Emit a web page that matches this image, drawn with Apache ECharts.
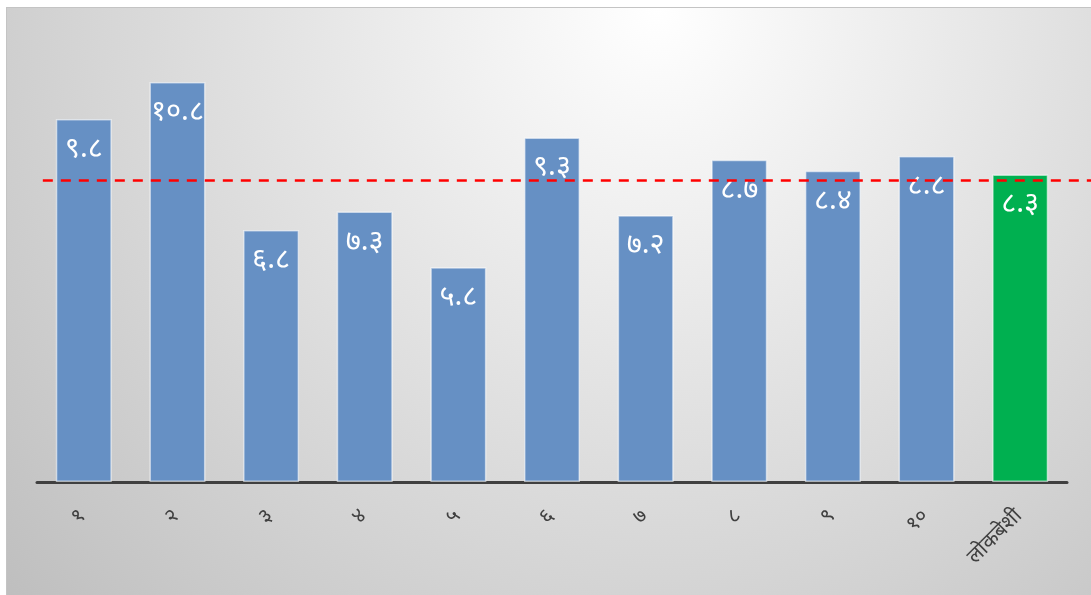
<!DOCTYPE html>
<html>
<head>
<meta charset="utf-8">
<script src="https://cdn.jsdelivr.net/npm/echarts@6/dist/echarts.min.js"></script>
<style>
  html, body { margin: 0; padding: 0; background: #ffffff; width: 1091px; height: 595px; overflow: hidden; }
  #chart { position: absolute; left: 6px; top: 7px; width: 1085px; height: 588px; border-top: 1px solid #c4c4c4; border-left: 1px solid #c4c4c4; box-sizing: border-box; }
</style>
</head>
<body>
<div id="chart"></div>
<script>
// Categories (ward numbers in Devanagari + total)
const categories = ['१', '२', '३', '४', '५', '६', '७', '८', '९', '१०', 'लोकबेशी'];
// Bar values
const values = [9.8, 10.8, 6.8, 7.3, 5.8, 9.3, 7.2, 8.7, 8.4, 8.8, 8.3];
// Value labels as printed on the bars (Devanagari numerals)
const valueLabels = ['९.८', '१०.८', '६.८', '७.३', '५.८', '९.३', '७.२', '८.७', '८.४', '८.८', '८.३'];
// Reference (red dashed) line value
const referenceValue = 8.15;

const blue = '#6690c4';
const green = '#00b050';
const font = '"Noto Sans Devanagari", "Noto Sans", "DejaVu Sans", sans-serif';

const chart = echarts.init(document.getElementById('chart'), null, { renderer: 'canvas' });

const option = {
  animation: false,
  backgroundColor: {
    type: 'radial', x: 0.6, y: 0.0, r: 1.55,
    colorStops: [
      { offset: 0, color: '#ffffff' },
      { offset: 1, color: '#bcbcbc' }
    ]
  },
  grid: { left: 30, right: 24, top: 29.5, bottom: 113, containLabel: false },
  xAxis: {
    type: 'category',
    data: categories,
    axisLine: { show: true, lineStyle: { color: '#404040', width: 3 } },
    axisTick: { show: false },
    axisLabel: {
      rotate: 45, margin: 32, color: '#404040', fontSize: 21, fontFamily: font
    },
    splitLine: { show: false }
  },
  yAxis: {
    type: 'value', min: 0, max: 12,
    show: false,
    splitLine: { show: false }
  },
  series: [{
    type: 'bar',
    barWidth: 56,
    data: values.map((v, i) => ({
      value: v,
      itemStyle: { color: i === values.length - 1 ? green : blue }
    })),
    itemStyle: { borderColor: 'rgba(255,255,255,0.55)', borderWidth: 1.5 },
    label: {
      show: true, position: 'insideTop', distance: 18,
      color: '#ffffff', fontSize: 29, fontFamily: font,
      formatter: (p) => valueLabels[p.dataIndex]
    }
  }]
};
chart.setOption(option);

const yPx = chart.convertToPixel({ yAxisIndex: 0 }, referenceValue);
const xStart = chart.convertToPixel({ xAxisIndex: 0 }, categories[0]) - 41;
chart.setOption({
  series: [{
    markLine: {
      silent: true,
      symbol: ['none', 'none'],
      label: { show: false },
      lineStyle: { color: '#ff0000', type: [10, 8], width: 2.5 },
      data: [[{ x: xStart, y: yPx }, { x: chart.getWidth(), y: yPx }]]
    }
  }]
});
</script>
</body>
</html>
